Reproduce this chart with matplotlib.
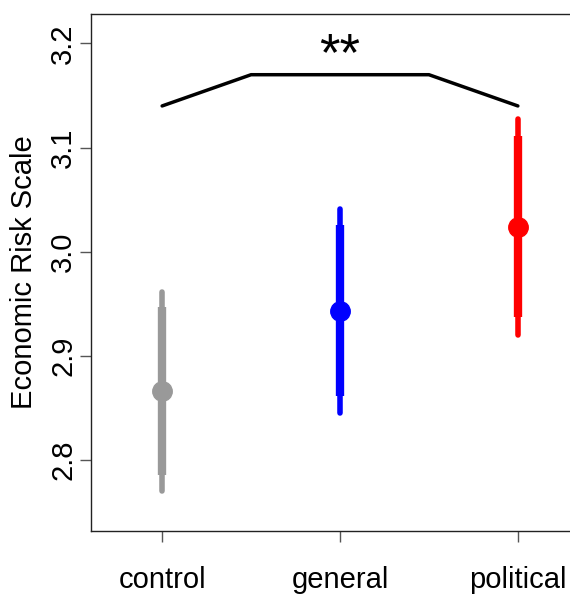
import matplotlib
matplotlib.use("Agg")
import matplotlib.pyplot as plt

categories = ["control", "general", "political"]
means = [2.866, 2.943, 3.024]
thin_lo = [2.770, 2.845, 2.920]
thin_hi = [2.961, 3.041, 3.127]
thick_lo = [2.786, 2.861, 2.937]
thick_hi = [2.947, 3.026, 3.111]
colors = ["#999999", "#0000FF", "#FF0000"]
bracket_x = [1, 1.5, 2.5, 3]
bracket_y = [3.14, 3.17, 3.17, 3.14]
yticks = [2.8, 2.9, 3.0, 3.1, 3.2]

plt.rcParams['font.family'] = ['Liberation Sans', 'DejaVu Sans']
fig = plt.figure(figsize=(5.7, 5.94), dpi=100)
ax = fig.add_axes([91/570, 63/594, (589-91)/570, 517/594])

xs = [1, 2, 3]
for x, m, tl, th, kl, kh, c in zip(xs, means, thin_lo, thin_hi, thick_lo, thick_hi, colors):
    ax.plot([x, x], [tl, th], color=c, lw=4, solid_capstyle='round', zorder=2)
    ax.plot([x, x], [kl, kh], color=c, lw=6, solid_capstyle='butt', zorder=3)
    ax.plot([x], [m], 'o', color=c, ms=14, zorder=4)

ax.plot(bracket_x, bracket_y, color='black', lw=2.5, solid_capstyle='round')
ax.text(2, 3.188, "**", ha='center', va='center', fontsize=38)

ax.set_xlim(0.6, 3.4)
ax.set_ylim(2.7318, 3.2283)
ax.set_xticks(xs)
ax.set_xticklabels(categories, fontsize=21)
ax.set_yticks(yticks)
ax.set_yticklabels([f"{v:.1f}" for v in yticks], fontsize=21, rotation=90, va='center')
ax.set_ylabel("Economic Risk Scale", fontsize=21, labelpad=8)
ax.tick_params(axis='x', length=8, width=1, color='#555555', pad=17)
ax.tick_params(axis='y', length=8, width=1, color='#555555', pad=2)
for s in ax.spines.values():
    s.set_color('#222222')
    s.set_linewidth(1)

fig.savefig("out.png", dpi=100)
